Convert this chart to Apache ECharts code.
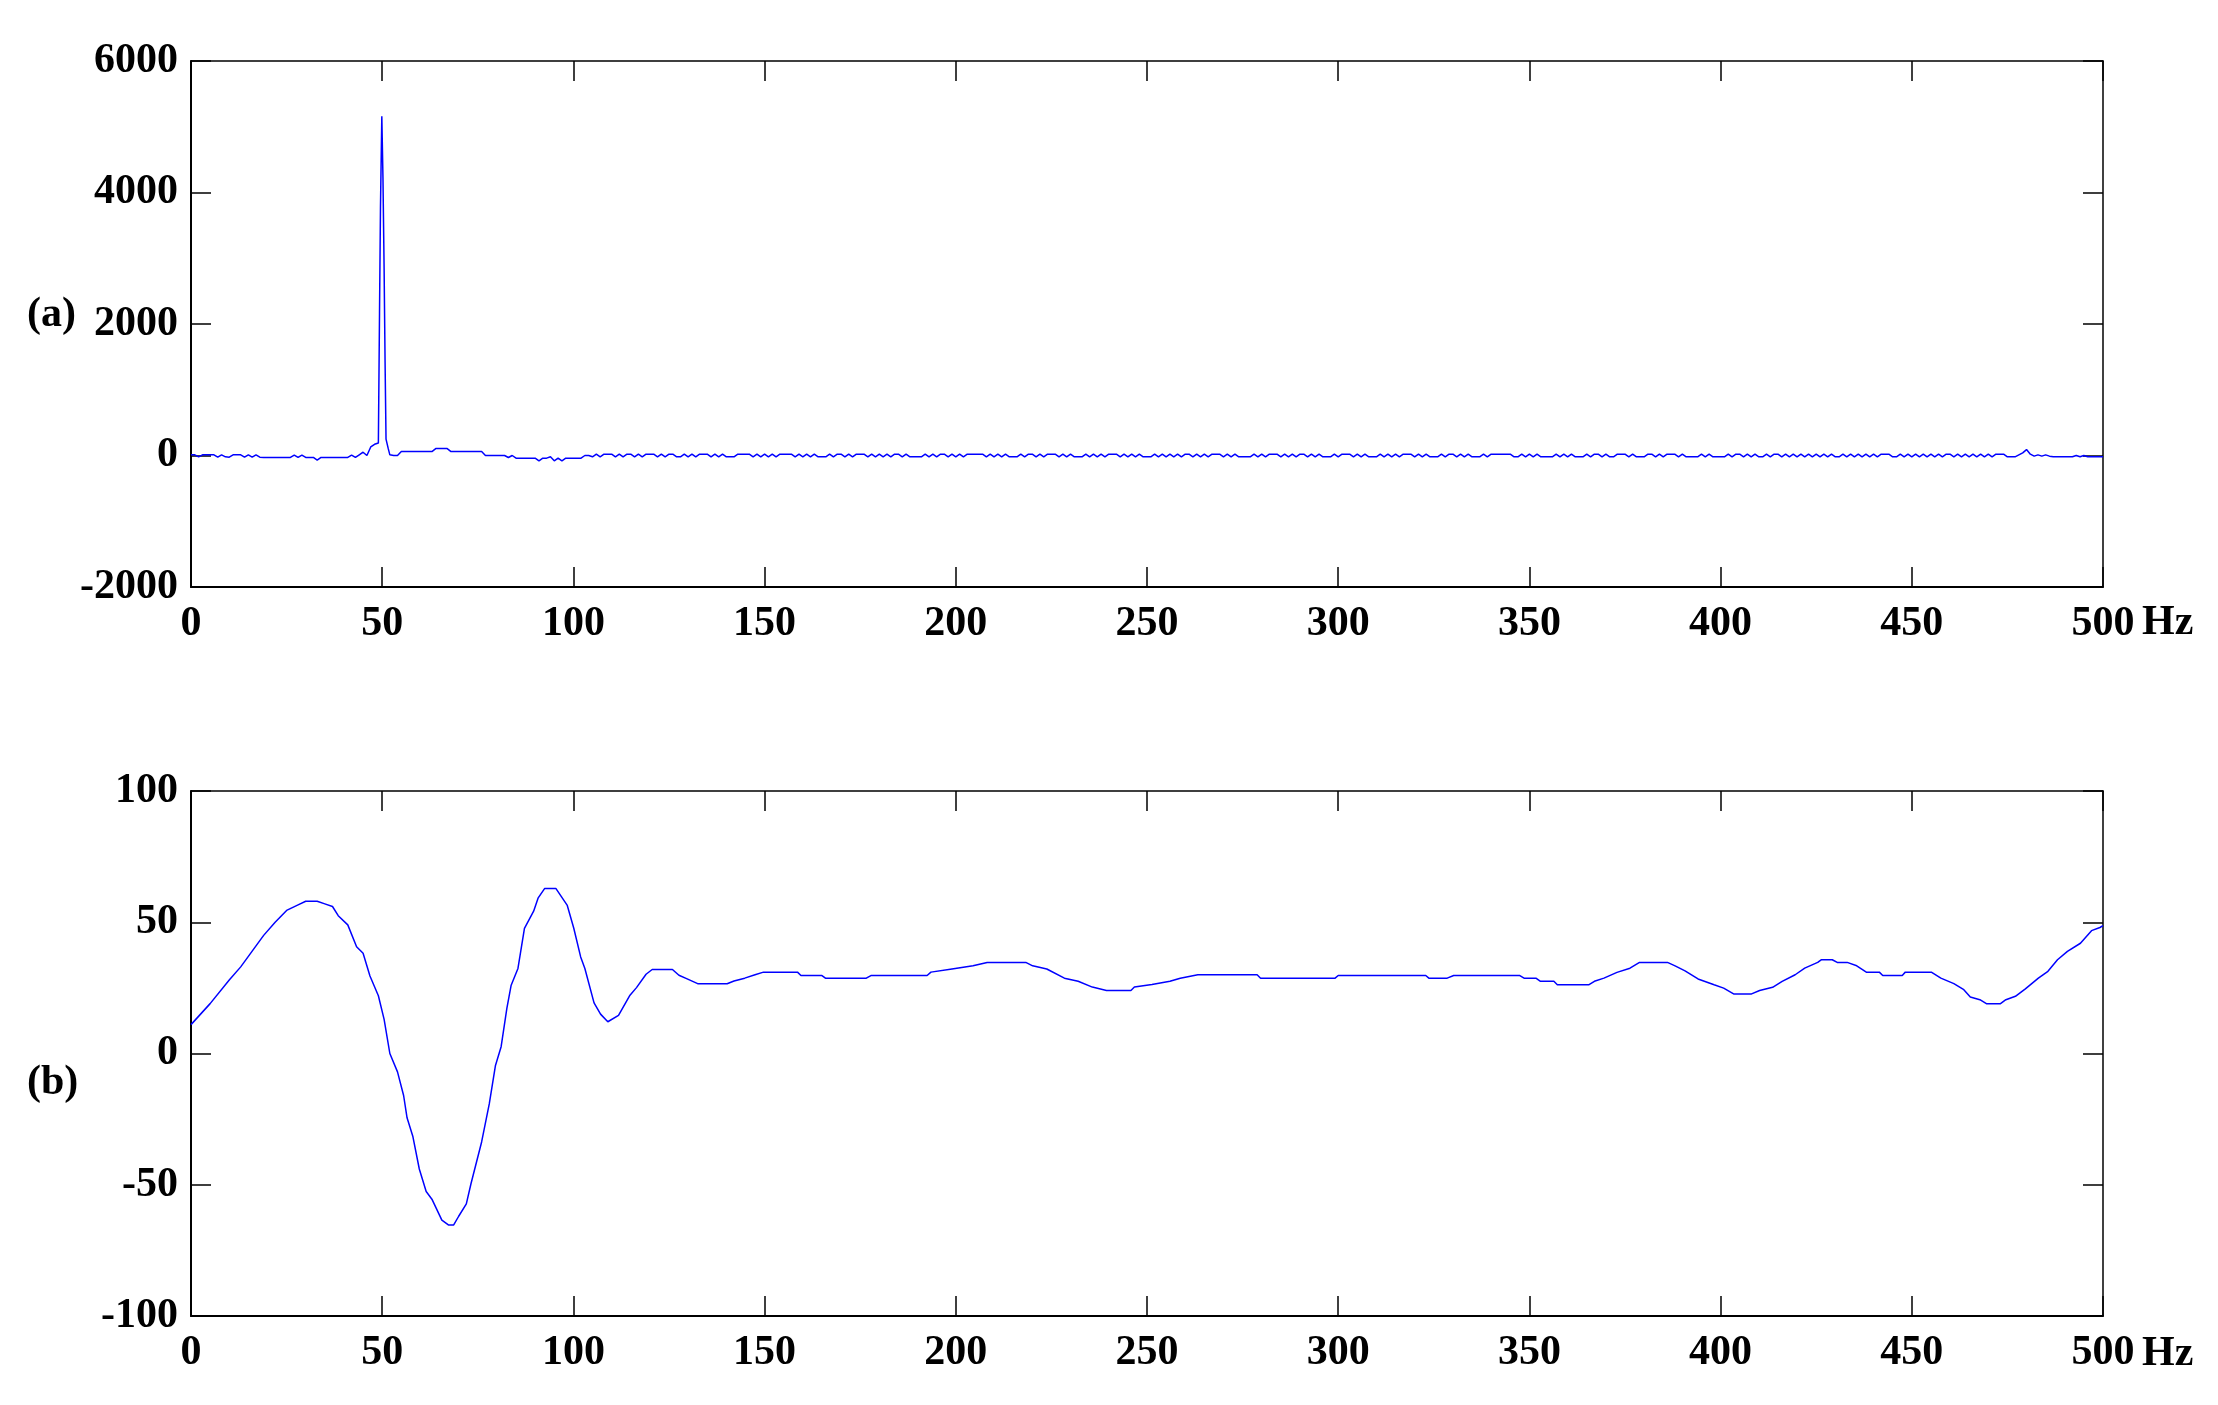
<!DOCTYPE html>
<html>
<head>
<meta charset="utf-8">
<script src="https://cdn.jsdelivr.net/npm/echarts@6/dist/echarts.min.js"></script>
<style>
html,body{margin:0;padding:0;background:#fff;}
#chart{width:2218px;height:1405px;}
</style>
</head>
<body>
<div id="chart"></div>
<script>
// ---------- Panel (a): spectrum ----------
// values at integer Hz from 0 to 48
const aLowBand = [
  10,10,-20,10,10,10,10,-25,10,-20,-25,10,10,10,-25,10,-25,10,-25,-30,
  -30,-30,-30,-30,-30,-30,-30,5,-30,5,-30,-30,-30,-70,-30,-30,-30,-30,-30,-30,
  -30,-30,5,-30,10,50,0,130,170
];
// fine-resolution points around the 50 Hz peak
const aPeakHz  = [49.0, 49.3, 49.55, 49.9, 50.2, 50.5, 50.75, 51.0, 51.6];
const aPeakVal = [190, 2170, 3780, 5160, 4220, 2840, 1430, 250, 100];
// values at integer Hz from 52 to 500
const aHighStart = 52;
const aHighBand = [
  10,0,0,60,60,60,60,60,60,60,60,60,105,105,105,105,60,60,60,60,
  60,60,60,60,60,0,0,0,0,0,0,-30,0,-40,-40,-40,-40,-40,-40,-80,
  -40,-40,-20,-80,-40,-80,-40,-40,-40,-40,-40,0,
  0,-20,20,-20,20,20,20,-20,20,-20,20,20,-20,20,-20,20,20,20,-20,20,
  -20,20,20,-20,-20,20,-20,20,-20,20,20,20,-20,20,-20,20,-20,-20,-20,20,
  20,20,20,-20,20,-20,20,-20,20,-20,20,20,20,20,-20,20,-20,20,-20,20,
  -20,-20,-20,20,-20,20,20,-20,20,-20,20,20,20,-20,20,-20,20,-20,20,-20,
  20,20,-20,20,-20,-20,-20,-20,20,-20,20,-20,20,20,-20,20,-20,20,-20,20,
  20,20,20,20,-20,20,-20,20,-20,20,-20,-20,-20,20,-20,20,20,-20,20,-20,
  20,20,20,-20,20,-20,20,-20,-20,-20,20,-20,20,-20,20,-20,20,20,20,-20,
  20,-20,20,-20,20,-20,-20,-20,20,-20,20,-20,20,-20,20,-20,20,20,-20,20,
  -20,20,-20,20,20,20,-20,20,-20,20,-20,-20,-20,-20,20,-20,20,-20,20,20,
  20,-20,20,-20,20,-20,20,20,-20,20,-20,20,-20,-20,-20,20,-20,20,20,20,
  -20,20,-20,20,-20,-20,-20,20,-20,20,-20,20,-20,20,20,20,-20,20,-20,20,
  -20,-20,-20,20,-20,20,20,-20,20,-20,20,-20,-20,-20,20,-20,20,20,20,20,
  20,20,-20,-20,20,-20,20,-20,20,-20,-20,-20,-20,20,-20,20,-20,20,-20,-20,
  -20,20,-20,20,20,-20,20,-20,-20,20,20,20,-20,20,-20,-20,-20,20,20,-20,
  20,-20,20,20,20,-20,20,-20,-20,-20,-20,20,-20,20,-20,-20,-20,-20,20,-20,
  20,20,-20,20,-20,20,-20,-20,20,-20,20,20,-20,20,-20,20,-20,20,-20,20,
  -20,20,-20,20,-20,20,-20,-20,20,-20,20,-20,20,-20,20,-20,20,-20,20,20,
  20,-20,-20,20,-20,20,-20,20,-20,20,-20,20,-20,20,-20,20,20,-20,20,-20,
  20,-20,20,-20,20,-20,20,-20,20,20,20,-20,-20,-20,10,40,90,20,-10,10,
  -10,10,-10,-20,-20,-20,-20,-20,-20,0,-20,0,-20,-20,-20,-20,-20
];
const aYTicks = [-2000, 6000, 2000]; // min, max, interval

// ---------- Panel (b) ----------
const bHz = [0,5,10,13,16,19,22,25,28,30,33,35,37,38.5,41,43.3,45,46.8,49,50.5,
  52,54,55.6,56.5,58,59.7,61.5,63,65.6,67.3,68.7,70,72,73.2,76,78,79.6,81.1,82.6,83.7,
  85.5,87.2,89.6,90.8,92.5,95.4,98.4,100.1,101.9,103,105.4,107.1,109,111.8,114.8,116.5,119,120.6,125.9,127.6,
  129.6,132.5,140.2,142,144.8,147.5,149.7,158.6,159.5,165,165.9,176.6,177.8,192.5,193.5,199,204.5,208.2,218.3,220.1,
  223.8,228.4,232,235.7,239.4,245.8,246.7,251.3,256,258.7,263.3,278.8,279.7,299.2,300,322.9,323.7,328.5,330.2,347.5,
  348.6,351.7,352.9,356.4,357.3,365.6,367,369.5,372.9,376.3,378.8,386.1,388.1,390.7,394.1,398.3,400.8,403.4,408.1,410.2,
  413.6,416.1,419.5,422,425.4,426.3,429.2,430.5,433.1,435.6,438.1,441.5,442.4,447.5,448.3,455.1,457.6,461,463.6,465.3,
  467.8,469.5,473.2,474.6,477.1,479.7,483.1,485.6,488.1,490.7,494.1,497,499.2,500];
const bVal = [11,19,28,33,39,45,50,54.5,56.6,58,58,57,56,52.5,49,40.7,38.2,29.5,22,13,
  0,-7,-16,-24.5,-31.5,-44,-52.6,-55.5,-63.5,-65.3,-65.3,-62,-57.3,-49.7,-33.7,-19.2,-4.7,2.6,17.2,25.9,
  32.4,47.7,54.2,59.3,62.9,62.9,56.4,47.7,36.8,32.4,19.3,15,12.1,14.5,22.2,25.1,30.2,32,32,29.8,
  28.5,26.6,26.6,27.6,28.7,30,31,31,29.7,29.7,28.7,28.7,29.7,29.7,31,32.2,33.4,34.7,34.7,33.4,
  32.2,28.7,27.5,25.3,24,24,25.3,26.3,27.5,28.7,30,30,28.7,28.7,29.7,29.7,28.7,28.7,29.7,29.7,
  28.7,28.7,27.5,27.5,26.2,26.2,27.5,28.7,30.9,32.5,34.7,34.7,33.4,31.5,28.4,26.2,24.9,22.7,22.7,24,
  25.2,27.5,30,32.5,34.7,35.7,35.7,34.7,34.7,33.4,31,31,29.7,29.7,31,31,28.7,26.6,24.3,21.5,
  20.5,19,19,20.5,21.8,24.6,28.7,31.3,35.7,38.9,42,46.8,48,48.7];
const bYTicks = [-100, 100, 50];

const xTicks = [0, 500, 50];
const xUnit = 'Hz';

// ---------- build data ----------
const aData = [];
aLowBand.forEach((v, i) => aData.push([i, v]));
aPeakHz.forEach((h, i) => aData.push([h, aPeakVal[i]]));
aHighBand.forEach((v, i) => aData.push([aHighStart + i, v]));
const bData = bHz.map((h, i) => [h, bVal[i]]);

const FONT = 'Liberation Serif, Times New Roman, serif';
const labelStyle = { fontFamily: FONT, fontWeight: 'bold', fontSize: 42, color: '#000', formatter: v => String(v) };

function xAx(gi, pos, show) {
  return {
    type: 'value', gridIndex: gi, position: pos,
    min: xTicks[0], max: xTicks[1], interval: xTicks[2],
    axisLine: { show: true, onZero: false, lineStyle: { color: '#000', width: pos === 'bottom' ? 2 : 1.5 } },
    axisTick: { show: true, inside: true, length: 20, lineStyle: { color: '#000', width: 1.5 } },
    axisLabel: Object.assign({ show: show, margin: 16 }, labelStyle),
    splitLine: { show: false }
  };
}
function yAx(gi, pos, show, t) {
  return {
    type: 'value', gridIndex: gi, position: pos,
    min: t[0], max: t[1], interval: t[2],
    axisLine: { show: true, onZero: false, lineStyle: { color: '#000', width: pos === 'left' ? 2 : 1.5 } },
    axisTick: { show: true, inside: true, length: 20, lineStyle: { color: '#000', width: 1.5 } },
    axisLabel: Object.assign({ show: show, margin: 13 }, labelStyle),
    splitLine: { show: false }
  };
}
function txt(left, cy, s) {
  return { type: 'text', left: left, top: cy - 24, style: { text: s, font: 'bold 42px ' + FONT, fill: '#000' } };
}

const chart = echarts.init(document.getElementById('chart'), null, { renderer: 'canvas' });
chart.setOption({
  animation: false,
  backgroundColor: '#fff',
  grid: [
    { left: 191, top: 61, width: 1912, height: 526 },
    { left: 191, top: 791, width: 1912, height: 525 }
  ],
  xAxis: [xAx(0, 'bottom', true), xAx(0, 'top', false), xAx(1, 'bottom', true), xAx(1, 'top', false)],
  yAxis: [yAx(0, 'left', true, aYTicks), yAx(0, 'right', false, aYTicks), yAx(1, 'left', true, bYTicks), yAx(1, 'right', false, bYTicks)],
  series: [
    { type: 'line', xAxisIndex: 0, yAxisIndex: 0, data: aData, showSymbol: false, symbol: 'none',
      lineStyle: { color: '#0000ff', width: 1.5 }, z: 1 },
    { type: 'line', xAxisIndex: 2, yAxisIndex: 2, data: bData, showSymbol: false, symbol: 'none',
      lineStyle: { color: '#0000ff', width: 1.5 }, z: 1 }
  ],
  graphic: [
    txt(27, 318, '(a)'),
    txt(27, 1086, '(b)'),
    txt(2142, 626, xUnit),
    txt(2142, 1357, xUnit)
  ]
});
</script>
</body>
</html>
